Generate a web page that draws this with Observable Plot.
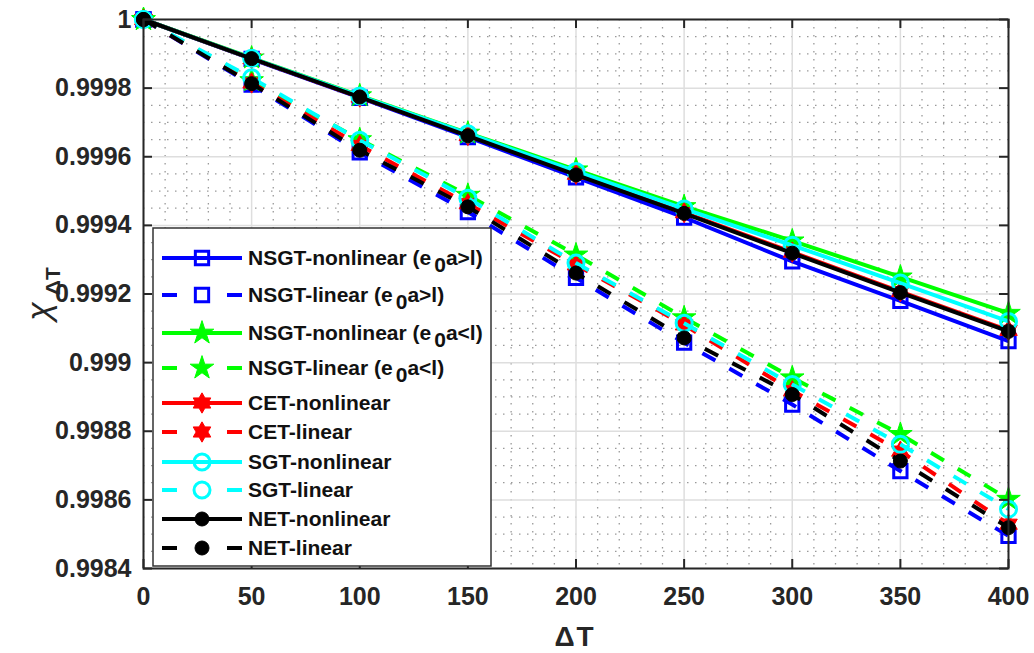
<!DOCTYPE html>
<html><head><meta charset="utf-8">
<script src="https://cdn.jsdelivr.net/npm/d3@7"></script>
<script src="https://cdn.jsdelivr.net/npm/@observablehq/plot@0.6"></script>
<style>
body{margin:0;background:#fff;}
#wrap{position:relative;width:1034px;height:653px;font-family:"Liberation Sans",Arial,sans-serif;}
#wrap svg{position:absolute;left:0;top:0;}
</style></head><body><div id="wrap"></div>
<script>
// ---- data ----
const deltaT = [0, 50, 100, 150, 200, 250, 300, 350, 400];
const nsgtNonlinGt = [1, 0.999885, 0.999772, 0.999657, 0.999540, 0.999423, 0.999295, 0.999180, 0.999063];
const nsgtLinGt    = [1, 0.999810, 0.999613, 0.999439, 0.999247, 0.999058, 0.998878, 0.998684, 0.998495];
const nsgtNonlinLt = [1, 0.999888, 0.999778, 0.999669, 0.999562, 0.999455, 0.999355, 0.999250, 0.999144];
const nsgtLinLt    = [1, 0.999822, 0.999650, 0.999488, 0.999314, 0.999131, 0.998956, 0.998791, 0.998602];
const cetNonlin    = [1, 0.999886, 0.999774, 0.999662, 0.999549, 0.999437, 0.999322, 0.999207, 0.999094];
const cetLin       = [1, 0.999815, 0.999633, 0.999463, 0.999285, 0.999110, 0.998918, 0.998742, 0.998529];
const sgtNonlin    = [1, 0.999887, 0.999777, 0.999667, 0.999557, 0.999448, 0.999342, 0.999232, 0.999120];
const sgtLin       = [1, 0.999830, 0.999648, 0.999479, 0.999290, 0.999115, 0.998936, 0.998762, 0.998573];
const netNonlin    = [1, 0.999886, 0.999774, 0.999661, 0.999547, 0.999435, 0.999319, 0.999204, 0.999091];
const netLin       = [1, 0.999813, 0.999619, 0.999454, 0.999261, 0.999072, 0.998907, 0.998713, 0.998519];

const seriesNames = [
  "NSGT-nonlinear (e0a>l)", "NSGT-linear (e0a>l)",
  "NSGT-nonlinear (e0a<l)", "NSGT-linear (e0a<l)",
  "CET-nonlinear", "CET-linear",
  "SGT-nonlinear", "SGT-linear",
  "NET-nonlinear", "NET-linear"
];
const seriesValues = [nsgtNonlinGt, nsgtLinGt, nsgtNonlinLt, nsgtLinLt, cetNonlin, cetLin, sgtNonlin, sgtLin, netNonlin, netLin];
const seriesColors = ["#0000ff","#0000ff","#00ff00","#00ff00","#ff0000","#ff0000","#00ffff","#00ffff","#000000","#000000"];
const seriesDashed = [false,true,false,true,false,true,false,true,false,true];
const seriesMarker = ["square","square","star","star","hexagram","hexagram","circle","circle","dot","dot"];

const xTicks = [0, 50, 100, 150, 200, 250, 300, 350, 400];
const xTickLabels = ["0","50","100","150","200","250","300","350","400"];
const yTicks = [0.9984, 0.9986, 0.9988, 0.999, 0.9992, 0.9994, 0.9996, 0.9998, 1];
const yTickLabels = ["0.9984","0.9986","0.9988","0.999","0.9992","0.9994","0.9996","0.9998","1"];
const xMinor = d3.range(10, 400, 10).filter(v => v % 50 !== 0);
const yMinor = d3.range(1, 32).filter(i => i % 4 !== 0).map(i => 0.9984 + i * 0.00005);

// ---- symbols ----
const hexagram = {
  draw(context, size) {
    const R = Math.sqrt(size / Math.PI) * 1.45, r = R / Math.sqrt(3);
    for (let i = 0; i < 12; i++) {
      const a = -Math.PI / 2 + i * Math.PI / 6, rr = i % 2 ? r : R;
      const px = rr * Math.cos(a), py = rr * Math.sin(a);
      i ? context.lineTo(px, py) : context.moveTo(px, py);
    }
    context.closePath();
  }
};
const markerStyle = {
  square:   {symbol: d3.symbolSquare, r: 7.5, fill: "none", sw: 3},
  star:     {symbol: d3.symbolStar, r: 7.4, fill: "color", sw: 1},
  hexagram: {symbol: hexagram, r: 7, fill: "color", sw: 1},
  circle:   {symbol: d3.symbolCircle, r: 8, fill: "none", sw: 3},
  dot:      {symbol: d3.symbolCircle, r: 7, fill: "color", sw: 1}
};

// ---- layout ----
const W = 1034, H = 653, mL = 143, mR = 26, mT = 19, mB = 85;
const pw = W - mL - mR, ph = H - mT - mB;
const fontFam = '"Liberation Sans", Arial, sans-serif';

const seriesMarks = [];
seriesNames.forEach((name, s) => {
  const rows = deltaT.map((x, i) => ({x, y: seriesValues[s][i]}));
  const c = seriesColors[s];
  seriesMarks.push(Plot.line(rows, {
    x: "x", y: "y", stroke: c, strokeWidth: 4,
    strokeDasharray: seriesDashed[s] ? "15,16" : null, strokeLinecap: "butt"
  }));
  const m = markerStyle[seriesMarker[s]];
  seriesMarks.push(Plot.dot(rows, {
    x: "x", y: "y", symbol: m.symbol, r: m.r,
    fill: m.fill === "color" ? c : "none", stroke: c, strokeWidth: m.sw
  }));
});

const chart = Plot.plot({
  width: W, height: H, marginLeft: mL, marginRight: mR, marginTop: mT, marginBottom: mB,
  x: {domain: [0, 400]},
  y: {domain: [0.9984, 1]},
  style: {fontFamily: fontFam, background: "white", color: "#262626", overflow: "visible"},
  marks: [
    Plot.ruleX(xMinor, {x: d => d, stroke: "#9a9a9a", strokeWidth: 1.3, strokeDasharray: "1.5,6.5"}),
    Plot.ruleY(yMinor, {y: d => d, stroke: "#9a9a9a", strokeWidth: 1.3, strokeDasharray: "1.5,6.5"}),
    Plot.ruleX(xTicks, {x: d => d, stroke: "#dedede", strokeWidth: 1.5}),
    Plot.ruleY(yTicks, {y: d => d, stroke: "#dedede", strokeWidth: 1.5}),
    ...seriesMarks,
    Plot.frame({stroke: "#262626", strokeWidth: 2}),
    Plot.tickY(yTicks, {y: d => d, insetRight: pw - 9, stroke: "#262626", strokeWidth: 2}),
    Plot.tickY(yTicks, {y: d => d, insetLeft: pw - 9, stroke: "#262626", strokeWidth: 2}),
    Plot.tickX(xTicks, {x: d => d, insetTop: ph - 9, stroke: "#262626", strokeWidth: 2}),
    Plot.tickX(xTicks, {x: d => d, insetBottom: ph - 9, stroke: "#262626", strokeWidth: 2}),
    Plot.axisX(xTicks, {tickSize: 0, tickPadding: 19, fontSize: 25, fontWeight: "bold",
      tickFormat: d => xTickLabels[xTicks.indexOf(d)], label: null}),
    Plot.axisY(yTicks, {tickSize: 0, tickPadding: 12, fontSize: 25, fontWeight: "bold",
      tickFormat: d => yTickLabels[yTicks.indexOf(d)], label: null})
  ]
});
document.getElementById("wrap").appendChild(chart);

// ---- overlay: axis titles and legend ----
const ov = d3.select("#wrap").append("svg").attr("width", W).attr("height", H)
  .style("font-family", fontFam).style("pointer-events", "none");

ov.append("text").attr("x", 575).attr("y", 646).attr("text-anchor", "middle")
  .attr("font-size", 28).attr("font-weight", "bold").attr("fill", "#262626")
  .attr("letter-spacing", 2).text("ΔT");

const yl = ov.append("text").attr("transform", "translate(50,294) rotate(-90)")
  .attr("text-anchor", "middle").attr("fill", "#262626");
yl.append("tspan").attr("font-size", 34).attr("font-style", "italic").text("χ");
yl.append("tspan").attr("font-size", 21).attr("font-weight", "bold").attr("dy", 10).attr("dx", 7).text("ΔT");

const lg = ov.append("g");
lg.append("rect").attr("x", 153).attr("y", 228).attr("width", 338).attr("height", 338)
  .attr("fill", "white").attr("stroke", "#333").attr("stroke-width", 1.5);
const rowY = [258, 295, 333, 368, 403, 432, 462, 490, 519, 548];
seriesNames.forEach((name, s) => {
  const y = rowY[s], c = seriesColors[s];
  if (seriesDashed[s]) {
    lg.append("line").attr("x1", 162).attr("x2", 177).attr("y1", y).attr("y2", y).attr("stroke", c).attr("stroke-width", 4);
    lg.append("line").attr("x1", 227).attr("x2", 242).attr("y1", y).attr("y2", y).attr("stroke", c).attr("stroke-width", 4);
  } else {
    lg.append("line").attr("x1", 162).attr("x2", 242).attr("y1", y).attr("y2", y).attr("stroke", c).attr("stroke-width", 4);
  }
  const m = markerStyle[seriesMarker[s]];
  lg.append("path").attr("transform", `translate(202,${y})`)
    .attr("d", d3.symbol(m.symbol, Math.PI * m.r * m.r)())
    .attr("fill", m.fill === "color" ? c : "none").attr("stroke", c).attr("stroke-width", m.sw);
  const t = lg.append("text").attr("x", 248).attr("y", y + 7).attr("font-size", 21)
    .attr("font-weight", "bold").attr("fill", "#111");
  const idx = name.indexOf("e0a");
  if (idx >= 0) {
    t.append("tspan").text(name.slice(0, idx + 1));
    t.append("tspan").attr("dx", 3).attr("dy", 7).text("0");
    t.append("tspan").attr("dy", -7).text(name.slice(idx + 2));
  } else {
    t.text(name);
  }
});
</script>
</body></html>
